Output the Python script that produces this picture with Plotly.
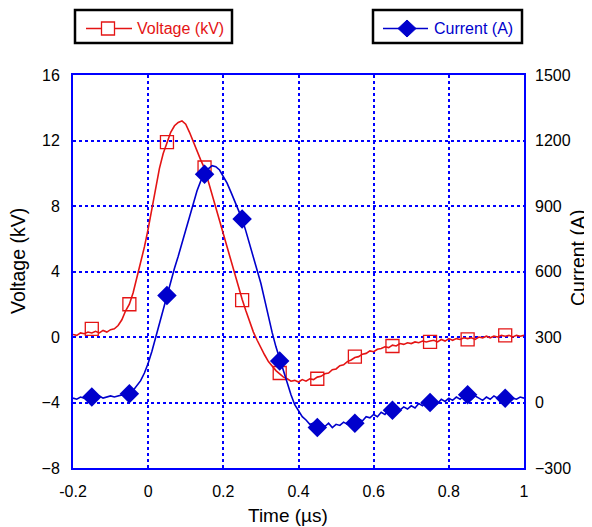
import plotly.graph_objects as go

# time axis of the scope traces (us), one sample every 0.01 us
time_us = [round(-0.2 + 0.01 * i, 2) for i in range(121)]

# voltage trace (kV)
voltage_kv = [
    0.15, 0.10, 0.25, 0.20, 0.30, 0.25, 0.35, 0.25, 0.40, 0.30,
    0.45, 0.50, 0.70, 1.05, 1.60, 2.00, 2.70, 3.60, 4.50, 5.50,
    6.60, 7.80, 9.20, 10.30, 11.20, 11.90, 12.50, 12.90, 13.10, 13.20,
    13.00, 12.50, 11.90, 11.30, 10.80, 10.30, 9.50, 8.70, 7.90, 7.10,
    6.30, 5.50, 4.70, 3.80, 3.00, 2.30, 1.60, 0.90, 0.30, -0.20,
    -0.70, -1.10, -1.50, -1.80, -2.05, -2.25, -2.45, -2.55, -2.70, -2.65,
    -2.75, -2.60, -2.70, -2.55, -2.60, -2.45, -2.40, -2.25, -2.20, -2.00,
    -1.95, -1.75, -1.70, -1.50, -1.40, -1.25, -1.20, -1.05, -1.00, -0.85,
    -0.90, -0.75, -0.70, -0.60, -0.65, -0.50, -0.55, -0.40, -0.45, -0.35,
    -0.40, -0.30, -0.35, -0.25, -0.30, -0.25, -0.20, -0.30, -0.15, -0.25,
    -0.10, -0.20, -0.10, -0.15, -0.05, -0.10, -0.05, -0.15, 0.00, -0.05,
    0.05, -0.05, 0.05, 0.00, 0.10, 0.05, 0.10, 0.00, 0.10, 0.05,
    0.10,
]

# current trace (A)
current_a = [
    20, 15, 25, 20, 10, 25, 20, 30, 20, 25,
    30, 25, 30, 35, 30, 40, 55, 75, 100, 135,
    180, 235, 300, 365, 430, 490, 555, 615, 670, 725,
    790, 850, 915, 970, 1015, 1045, 1070, 1085, 1080, 1065,
    1035, 1005, 965, 925, 885, 840, 785, 725, 665, 605,
    545, 470, 390, 320, 255, 200, 140, 85, 35, -10,
    -40, -65, -80, -100, -95, -115, -100, -110, -95, -115,
    -100, -105, -90, -100, -85, -95, -75, -85, -65, -70,
    -55, -65, -45, -55, -35, -40, -30, -35, -20, -30,
    -15, -25, -5, -15, 5, 0, 10, -5, 15, 5,
    20, 10, 25, 15, 30, 25, 15, 30, 20, 10,
    25, 15, 30, 20, 15, 25, 10, 20, 15, 25,
    20,
]

# symbols drawn every 0.1 us
marker_t = [-0.15, -0.05, 0.05, 0.15, 0.25, 0.35, 0.45, 0.55, 0.65, 0.75, 0.85, 0.95]
marker_v = [0.5, 2.0, 11.9, 10.35, 2.25, -2.2, -2.55, -1.2, -0.55, -0.3, -0.15, 0.1]
marker_i = [25, 40, 490, 1045, 840, 190, -115, -95, -35, 0, 35, 20]

red = "#E41414"
blue = "#0000CC"
frame_blue = "#0000FF"

# page body adds an 8px offset, so the figure is laid out 8px up/left
OFF = 8
W, H = 592, 527
L, R, T, B = 73 - OFF, 68 + OFF, 75 - OFF, 59 + OFF
pw, ph = W - L - R, H - T - B


def px(x, y):
    # screen pixels -> paper coords
    return (x - OFF - L) / pw, (H - B - (y - OFF)) / ph


fig = go.Figure()

fig.add_trace(go.Scatter(x=time_us, y=voltage_kv, mode="lines",
                         line=dict(color=red, width=1.6), showlegend=False))
fig.add_trace(go.Scatter(x=marker_t, y=marker_v, mode="markers",
                         marker=dict(symbol="square-open", size=13, color=red,
                                     line=dict(width=1.3, color=red)),
                         showlegend=False))
fig.add_trace(go.Scatter(x=time_us, y=current_a, mode="lines", yaxis="y2",
                         line=dict(color=blue, width=1.6), showlegend=False))
fig.add_trace(go.Scatter(x=marker_t, y=marker_i, mode="markers", yaxis="y2",
                         marker=dict(symbol="diamond", size=15, color=blue),
                         showlegend=False))

# two separate legend boxes drawn by hand
shapes = []
annotations = []
for (x0, x1, lx0, lx1, tx, col, name) in [
        (75, 232, 86, 132, 135, red, "Voltage (kV)"),
        (373, 522, 383, 428, 432, blue, "Current (A)")]:
    a0, b0 = px(x0, 10)
    a1, b1 = px(x1, 43)
    shapes.append(dict(type="rect", xref="paper", yref="paper", x0=a0, x1=a1, y0=b1, y1=b0,
                       line=dict(color="black", width=2.5), fillcolor="white", layer="above"))
    c0, cy = px(lx0, 28.5)
    c1, _ = px(lx1, 28.5)
    shapes.append(dict(type="line", xref="paper", yref="paper", x0=c0, x1=c1, y0=cy, y1=cy,
                       line=dict(color=col, width=1.5), layer="above"))
    tpx, _ = px(tx, 0)
    annotations.append(dict(text=name, xref="paper", yref="paper", x=tpx, y=cy,
                            xanchor="left", yanchor="middle", showarrow=False,
                            font=dict(family="Liberation Sans, Arial", size=16, color=col)))

# legend symbols
sx0, sy0 = px(101.5, 22)
sx1, sy1 = px(114.5, 35)
shapes.append(dict(type="rect", xref="paper", yref="paper", x0=sx0, x1=sx1, y0=sy1, y1=sy0,
                   line=dict(color=red, width=1.3), fillcolor="white", layer="above"))
dl, dm = px(398, 28.5)
dr, _ = px(416, 28.5)
dc, dt = px(407, 20)
_, db = px(407, 37)
shapes.append(dict(type="path", xref="paper", yref="paper",
                   path=f"M {dl},{dm} L {dc},{dt} L {dr},{dm} L {dc},{db} Z",
                   line=dict(color=blue, width=1), fillcolor=blue, layer="above"))

# axis titles
title_font = dict(family="Liberation Sans, Arial", size=19.5, color="black")
ax, ay = px(18, 261)
annotations.append(dict(text="Voltage (kV)", xref="paper", yref="paper", x=ax, y=ay,
                        textangle=-90, showarrow=False, xanchor="center", yanchor="middle",
                        font=title_font))
ax, ay = px(578, 258)
annotations.append(dict(text="Current (A)", xref="paper", yref="paper", x=ax, y=ay,
                        textangle=-90, showarrow=False, xanchor="center", yanchor="middle",
                        font=title_font))
ax, ay = px(288, 515)
annotations.append(dict(text="Time (µs)", xref="paper", yref="paper", x=ax, y=ay,
                        showarrow=False, xanchor="center", yanchor="middle",
                        font=dict(family="Liberation Sans, Arial", size=19, color="black")))

axis_font = dict(family="Liberation Sans, Arial", size=16, color="black")

fig.update_layout(
    width=W, height=H,
    margin=dict(l=L, r=R, t=T, b=B),
    paper_bgcolor="white", plot_bgcolor="white",
    font=dict(family="Liberation Sans, Arial"),
    showlegend=False,
    xaxis=dict(range=[-0.2, 1.0], tickvals=[-0.2, 0, 0.2, 0.4, 0.6, 0.8, 1],
               ticktext=["-0.2", "0", "0.2", "0.4", "0.6", "0.8", "1"],
               showgrid=True, gridcolor=frame_blue, griddash="dot", gridwidth=1.5,
               showline=True, linecolor=frame_blue, linewidth=2, mirror=True,
               zeroline=False, tickfont=axis_font, ticklabelstandoff=8, automargin=False),
    yaxis=dict(range=[-8, 16], dtick=4,
               showgrid=True, gridcolor=frame_blue, griddash="dot", gridwidth=1.5,
               showline=True, linecolor=frame_blue, linewidth=2, mirror=True,
               zeroline=False, tickfont=axis_font, ticklabelstandoff=8, automargin=False),
    yaxis2=dict(range=[-300, 1500], dtick=300, overlaying="y", side="right",
                showgrid=False, zeroline=False, showline=False, automargin=False,
                tickfont=axis_font, ticklabelstandoff=10),
    shapes=shapes,
    annotations=annotations,
)

fig.write_html("out.html")
